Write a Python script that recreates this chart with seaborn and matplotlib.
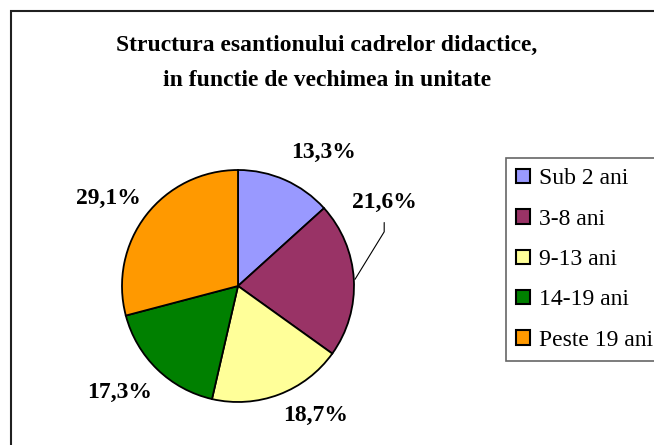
import numpy as np
import matplotlib
matplotlib.use("Agg")
import matplotlib.pyplot as plt
from matplotlib.patches import Rectangle
import seaborn as sns

categories = ["Sub 2 ani", "3-8 ani", "9-13 ani", "14-19 ani", "Peste 19 ani"]
values = [13.3, 21.6, 18.7, 17.3, 29.1]
value_labels = ["13,3%", "21,6%", "18,7%", "17,3%", "29,1%"]
title_lines = ["Structura esantionului cadrelor didactice,", "in functie de vechimea in unitate"]

colors = sns.color_palette(["#9999FF", "#993366", "#FFFF99", "#008000", "#FF9900"])

sns.set_theme(style="white")
plt.rcParams['font.family'] = ['Liberation Serif', 'DejaVu Serif']
plt.rcParams['text.color'] = 'black'

W, H = 654, 445
fig = plt.figure(figsize=(W / 100, H / 100), dpi=100)
fig.patch.set_facecolor("white")

# outer chart frame (cut at right and bottom like the reference)
fig.add_artist(Rectangle((11 / W, -0.05), 1.0, 1 - 11 / H + 0.05, transform=fig.transFigure,
                         fill=False, edgecolor="#202020", linewidth=1.5, clip_on=False))

cx, cy, r = 238, 286, 116
ax = fig.add_axes([(cx - r) / W, (H - cy - r) / H, 2 * r / W, 2 * r / H])
wedges, _ = ax.pie(values, colors=colors, startangle=90, counterclock=False,
                   wedgeprops=dict(edgecolor="black", linewidth=1.3), radius=1.0)
ax.set_xlim(-1, 1)
ax.set_ylim(-1, 1)
ax.set_aspect("equal")
ax.axis("off")

# label placement (distance factor and angle shift in degrees, per slice)
label_dist = [1.37, 1.45, 1.30, 1.37, 1.35]
label_shift = [-8.8, 26.4, 10.5, -4.0, 3.5]
for w, lab, d, sh in zip(wedges, value_labels, label_dist, label_shift):
    mid = np.deg2rad((w.theta1 + w.theta2) / 2 + sh)
    tx, ty = d * np.cos(mid), d * np.sin(mid)
    if sh > 20:
        midw = np.deg2rad((w.theta1 + w.theta2) / 2)
        ex, ey = 1.01 * np.cos(midw), 1.01 * np.sin(midw)
        ax.plot([ex, tx, tx], [ey, ty - 0.25, ty - 0.17], color="black", lw=0.8,
                clip_on=False)
    ax.text(tx, ty, lab, ha="center", va="center", fontsize=17, fontweight="bold",
            color="black", clip_on=False)

fig.text(0.5, 1 - 45 / H, title_lines[0], ha="center", va="center",
         fontsize=17, fontweight="bold", color="black")
fig.text(0.5, 1 - 80 / H, title_lines[1], ha="center", va="center",
         fontsize=17, fontweight="bold", color="black")

handles = [Rectangle((0, 0), 1, 1, facecolor=c, edgecolor="black", linewidth=1.5) for c in colors]
leg = fig.legend(handles, categories, loc="upper left", bbox_to_anchor=(506 / W, 1 - 158 / H),
                 bbox_transform=fig.transFigure, fontsize=17, frameon=True, fancybox=False,
                 handlelength=0.57, handleheight=0.57, handletextpad=0.4, labelspacing=0.82,
                 borderpad=0.44, borderaxespad=0)
leg.get_frame().set_edgecolor("#404040")
leg.get_frame().set_linewidth(1.2)

fig.savefig("out.png", dpi=100)
